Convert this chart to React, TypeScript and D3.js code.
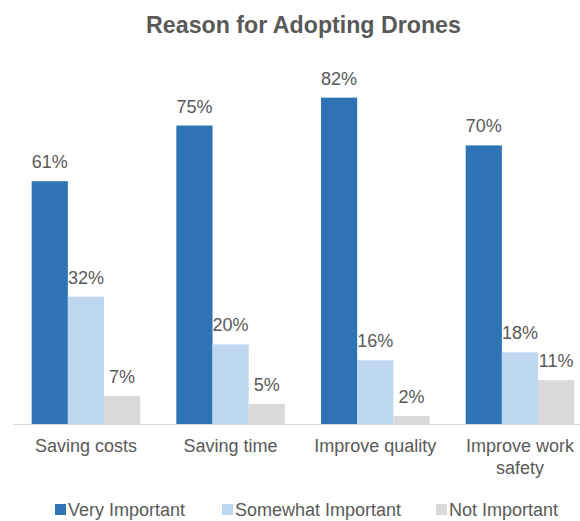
import React from "react";
import * as d3 from "d3";

const categories: string[][] = [
  ["Saving costs"],
  ["Saving time"],
  ["Improve quality"],
  ["Improve work", "safety"],
];
const seriesNames = ["Very Important", "Somewhat Important", "Not Important"];
const veryImportant = [61, 75, 82, 70];
const somewhatImportant = [32, 20, 16, 18];
const notImportant = [7, 5, 2, 11];
const colors = ["#2E74B5", "#BDD7EE", "#D9D9D9"];

const W = 580;
const H = 521;
const FONT = "'Liberation Sans', Arial, Helvetica, sans-serif";
const TEXT = "#595959";

export default function App() {
  const series = [veryImportant, somewhatImportant, notImportant];
  const keys = categories.map((c) => c.join(" "));
  const x0 = d3
    .scaleBand<string>()
    .domain(keys)
    .range([13.6, 592.3])
    .paddingInner(0.25)
    .paddingOuter(0.125);
  const x1 = d3
    .scaleBand<string>()
    .domain(seriesNames)
    .range([0, x0.bandwidth()])
    .padding(0);
  const y = d3.scaleLinear().domain([0, 100]).range([424, 26]);

  const legendX = [55, 222, 436];

  return (
    <svg
      width={W}
      height={H}
      style={{ position: "absolute", left: 0, top: 0, background: "#fff" }}
      fontFamily={FONT}
    >
      <rect x={0} y={0} width={W} height={H} fill="#fff" />
      <text
        x={303.5}
        y={33}
        textAnchor="middle"
        fontSize={23.2}
        fontWeight="bold"
        fill={TEXT}
      >
        Reason for Adopting Drones
      </text>
      {keys.map((k, ci) => (
        <g key={k} transform={`translate(${x0(k)},0)`}>
          {series.map((vals, si) => {
            const bx = x1(seriesNames[si])!;
            const v = vals[ci];
            return (
              <g key={si}>
                <rect
                  x={bx}
                  y={y(v)}
                  width={x1.bandwidth()}
                  height={y(0) - y(v)}
                  fill={colors[si]}
                />
                <text
                  x={bx + x1.bandwidth() / 2}
                  y={y(v) - 13}
                  textAnchor="middle"
                  fontSize={18}
                  fill={TEXT}
                >
                  {v}%
                </text>
              </g>
            );
          })}
          {categories[ci].map((line, li) => (
            <text
              key={li}
              x={x0.bandwidth() / 2}
              y={452 + li * 22}
              textAnchor="middle"
              fontSize={18}
              fill={TEXT}
            >
              {line}
            </text>
          ))}
        </g>
      ))}
      <line x1={13.3} x2={W} y1={424.5} y2={424.5} stroke="#D9D9D9" strokeWidth={1} />
      {seriesNames.map((n, i) => (
        <g key={n} transform={`translate(${legendX[i]},0)`}>
          <rect x={0} y={504} width={11} height={11} fill={colors[i]} />
          <text x={13} y={516} fontSize={18} fill={TEXT}>
            {n}
          </text>
        </g>
      ))}
    </svg>
  );
}
